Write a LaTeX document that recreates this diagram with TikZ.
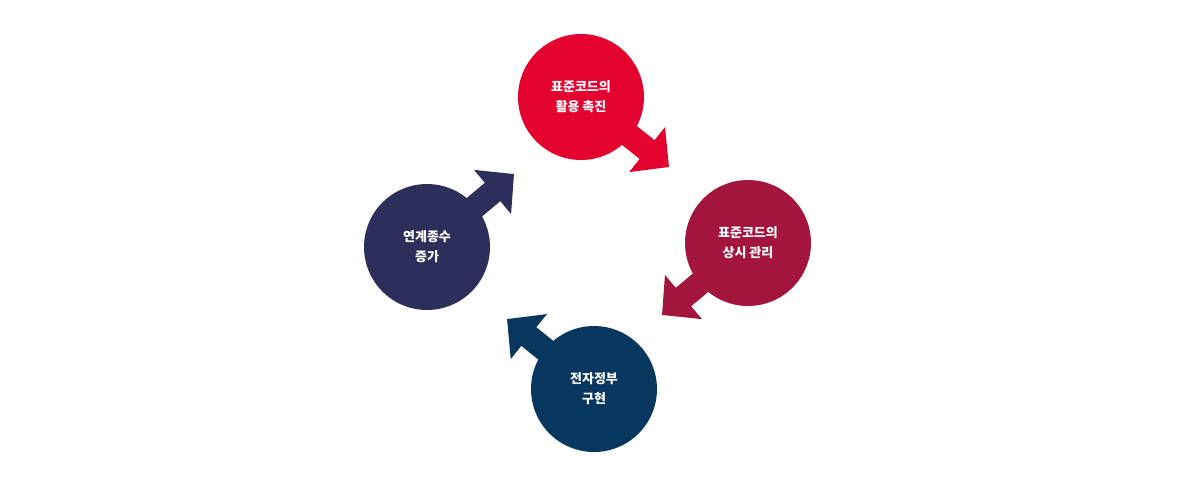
\documentclass[tikz,border=0pt]{standalone}
\usepackage{fontspec}
\newfontfamily\krfont{Noto Sans CJK KR}
\usepackage{tikz}
\usetikzlibrary{arrows.meta,backgrounds}
\definecolor{codered}{HTML}{E4032E}
\definecolor{codewine}{HTML}{A3153D}
\definecolor{govnavy}{HTML}{07365F}
\definecolor{linkindigo}{HTML}{2E2E5A}

\begin{document}
\begin{tikzpicture}[x=0.02cm, y=-0.02cm,
  stage/.style={circle, minimum size=2.52cm, inner sep=0pt, text=white,
    align=center, font=\krfont\bfseries\fontsize{7.4}{11.4}\selectfont},
  flow/.style={line width=0.48cm, -{Triangle[length=0.56cm, width=1.12cm]}}]
  \useasboundingbox (0,0) rectangle (1180,487);
  % the four stages
  \node[stage, fill=codered] (use) at (581,97) {표준코드의\\활용 촉진};
  \node[stage, fill=codewine] (keep) at (748,243) {표준코드의\\상시 관리};
  \node[stage, fill=govnavy] (egov) at (594,389) {전자정부\\구현};
  \node[stage, fill=linkindigo] (link) at (427,247) {연계종수\\증가};
  % arrow tips
  \coordinate (useto) at (669,167);
  \coordinate (keepto) at (662,315);
  \coordinate (egovto) at (507,319);
  \coordinate (linkto) at (514,174);
  \begin{scope}[on background layer]
    \draw[flow, codered] (use.center) -- (useto);
    \draw[flow, codewine] (keep.center) -- (keepto);
    \draw[flow, govnavy] (egov.center) -- (egovto);
    \draw[flow, linkindigo] (link.center) -- (linkto);
  \end{scope}
\end{tikzpicture}
\end{document}
